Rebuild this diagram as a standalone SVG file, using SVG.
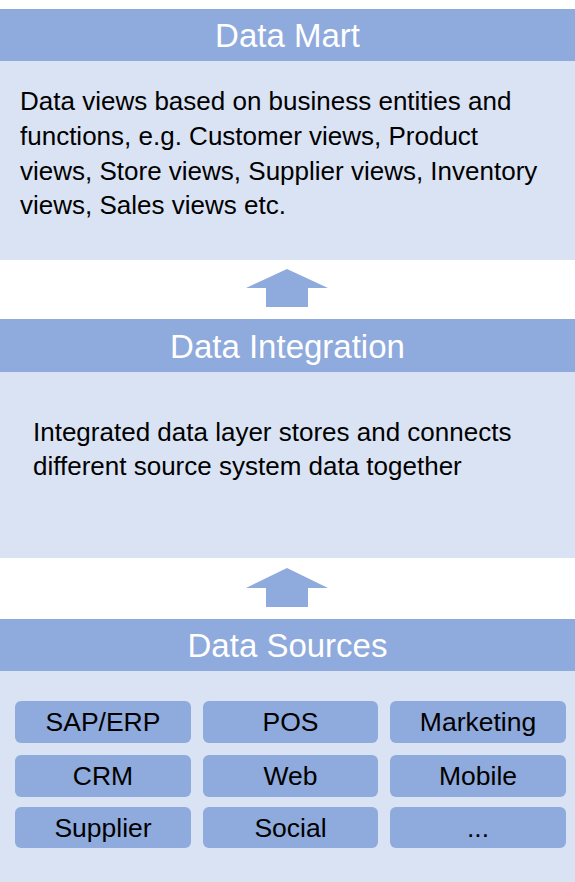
<svg xmlns="http://www.w3.org/2000/svg" width="575" height="882" viewBox="0 0 575 882">
<style>
.hdr{fill:#8FAADC}
.body{fill:#DAE3F3}
.box{fill:#8FAADC}
.arrow{fill:#8FAADC}
.ht{font-family:"Liberation Sans",Arial,sans-serif;font-size:33px;fill:#FFFFFF;text-anchor:middle}
.bt{font-family:"Liberation Sans",Arial,sans-serif;font-size:26px;fill:#000000}
.lt{font-family:"Liberation Sans",Arial,sans-serif;font-size:26.5px;fill:#000000;text-anchor:middle}
</style>
<rect width="575" height="882" fill="#FFFFFF"/>
<g id="data-mart">
<rect class="body" x="0" y="61" width="575" height="199"/>
<rect class="hdr" x="0" y="9" width="575" height="52"/>
<text class="ht" x="287.5" y="47">Data Mart</text>
<text class="bt" x="20" y="110">Data views based on business entities and</text>
<text class="bt" x="20" y="145">functions, e.g. Customer views, Product</text>
<text class="bt" x="20" y="180">views, Store views, Supplier views, Inventory</text>
<text class="bt" x="20" y="214">views, Sales views etc.</text>
</g>
<g id="data-integration">
<rect class="body" x="0" y="372" width="575" height="186"/>
<rect class="hdr" x="0" y="319" width="575" height="53"/>
<text class="ht" x="287.5" y="358">Data Integration</text>
<text class="bt" x="33" y="441">Integrated data layer stores and connects</text>
<text class="bt" x="33" y="475">different source system data together</text>
</g>
<g id="data-sources">
<rect class="body" x="0" y="671" width="575" height="211"/>
<rect class="hdr" x="0" y="619" width="575" height="52"/>
<text class="ht" x="287.5" y="657">Data Sources</text>
</g>
<g id="src-sap"><rect class="box" x="15" y="701" width="176" height="42" rx="6"/><text class="lt" x="103" y="731">SAP/ERP</text></g>
<g id="src-pos"><rect class="box" x="203" y="701" width="175" height="42" rx="6"/><text class="lt" x="290.5" y="731">POS</text></g>
<g id="src-marketing"><rect class="box" x="390" y="701" width="176" height="42" rx="6"/><text class="lt" x="478" y="731">Marketing</text></g>
<g id="src-crm"><rect class="box" x="15" y="755" width="176" height="42" rx="6"/><text class="lt" x="103" y="785">CRM</text></g>
<g id="src-web"><rect class="box" x="203" y="755" width="175" height="42" rx="6"/><text class="lt" x="290.5" y="785">Web</text></g>
<g id="src-mobile"><rect class="box" x="390" y="755" width="176" height="42" rx="6"/><text class="lt" x="478" y="785">Mobile</text></g>
<g id="src-supplier"><rect class="box" x="15" y="807" width="176" height="41" rx="6"/><text class="lt" x="103" y="837">Supplier</text></g>
<g id="src-social"><rect class="box" x="203" y="807" width="175" height="41" rx="6"/><text class="lt" x="290.5" y="837">Social</text></g>
<g id="src-more"><rect class="box" x="390" y="807" width="176" height="41" rx="6"/><text class="lt" x="478" y="837">...</text></g>
<g id="connectors">
<polygon class="arrow" points="287,269 328,288 308,288 308,307 266,307 266,288 246,288"/>
<polygon class="arrow" points="287,568 328,588 308,588 308,607 266,607 266,588 246,588"/>
</g>
</svg>
